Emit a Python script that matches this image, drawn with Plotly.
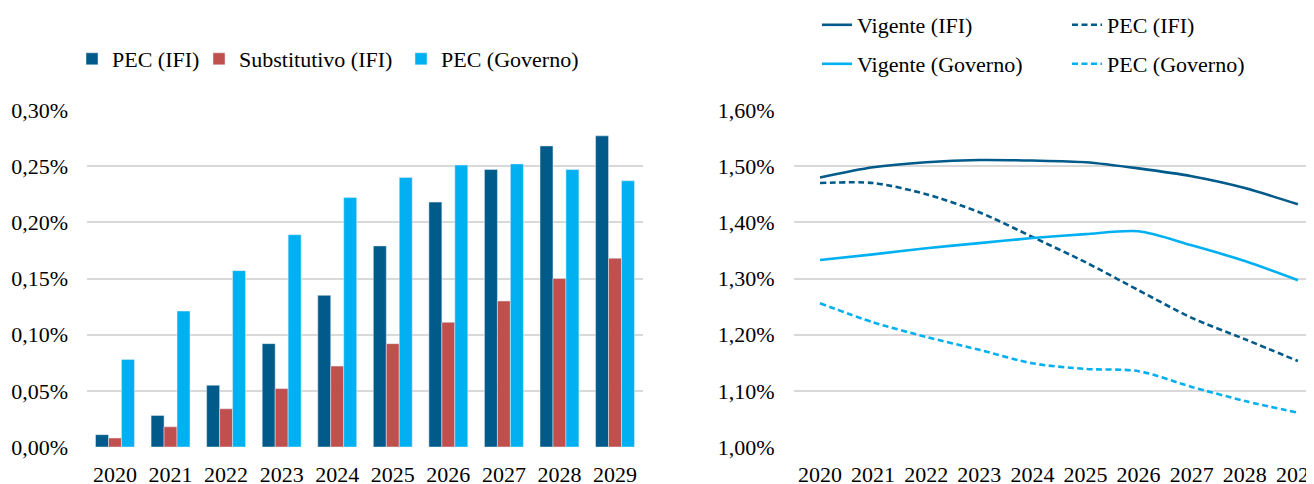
import plotly.graph_objects as go

# ---------------- data ----------------
years = ["2020", "2021", "2022", "2023", "2024", "2025", "2026", "2027", "2028", "2029"]

# left chart (bars), values in %
pec_ifi_bar = [0.011, 0.028, 0.055, 0.092, 0.135, 0.179, 0.218, 0.247, 0.268, 0.277]
subst_ifi_bar = [0.008, 0.018, 0.034, 0.052, 0.072, 0.092, 0.111, 0.130, 0.150, 0.168]
pec_gov_bar = [0.078, 0.121, 0.157, 0.189, 0.222, 0.240, 0.251, 0.252, 0.247, 0.237]

# right chart (lines), values in %
vigente_ifi = [1.480, 1.498, 1.507, 1.511, 1.510, 1.507, 1.496, 1.482, 1.461, 1.432]
pec_ifi = [1.470, 1.470, 1.450, 1.418, 1.374, 1.329, 1.279, 1.230, 1.192, 1.153]
vigente_gov = [1.333, 1.343, 1.354, 1.363, 1.372, 1.379, 1.384, 1.359, 1.331, 1.297]
pec_gov = [1.256, 1.222, 1.196, 1.173, 1.149, 1.139, 1.135, 1.107, 1.082, 1.061]

left_ticks = [0.00, 0.05, 0.10, 0.15, 0.20, 0.25, 0.30]
right_ticks = [1.00, 1.10, 1.20, 1.30, 1.40, 1.50, 1.60]

# ---------------- style ----------------
W, H = 1314, 484
PAGE_OFF = 8  # default body margin of the html page
DARK = "#005A8A"
RED = "#C0504D"
LIGHT = "#00B0F0"
GRID = "#D9D9D9"
FONT = "Liberation Serif"
FS = 22
LEG_OFF = 41  # distance from legend box left edge to its text


def px(x):
    return (x - PAGE_OFF) / W


def py(y):
    return 1 - (y - PAGE_OFF) / H


def pct_label(v):
    return f"{v:.2f}".replace(".", ",") + "%"


fig = go.Figure()

fig.add_trace(go.Bar(x=years, y=pec_ifi_bar, name="PEC (IFI)", marker_color=DARK,
                     xaxis="x", yaxis="y", legend="legend"))
fig.add_trace(go.Bar(x=years, y=subst_ifi_bar, name="Substitutivo (IFI)", marker_color=RED,
                     xaxis="x", yaxis="y", legend="legend2"))
fig.add_trace(go.Bar(x=years, y=pec_gov_bar, name="PEC (Governo)", marker_color=LIGHT,
                     xaxis="x", yaxis="y", legend="legend3"))

line_specs = [
    (vigente_ifi, "Vigente (IFI)", DARK, "solid", "legend4"),
    (pec_ifi, "PEC (IFI)", DARK, "6px,3.5px", "legend5"),
    (vigente_gov, "Vigente (Governo)", LIGHT, "solid", "legend6"),
    (pec_gov, "PEC (Governo)", LIGHT, "6px,3.5px", "legend7"),
]
for vals, name, color, dash, leg in line_specs:
    fig.add_trace(go.Scatter(x=years, y=vals, name=name, mode="lines",
                             line=dict(color=color, width=2.6, dash=dash, shape="spline", smoothing=0.8),
                             xaxis="x2", yaxis="y2", legend=leg))

ydom = [py(447), py(110)]

# right chart: category spacing ~53.1 px, 2020 centred at x=820; plot runs past the window edge
R_LEFT, R_FIRST, R_STEP = 793.5, 820.0, 53.1
r_right_px = PAGE_OFF + W
r_range = [(R_LEFT - R_FIRST) / R_STEP, (r_right_px - R_FIRST) / R_STEP]


def legend_at(text_x, center_y):
    return dict(x=px(text_x - LEG_OFF), y=py(center_y), xanchor="left", yanchor="middle",
                xref="container", yref="container",
                orientation="h", bgcolor="rgba(0,0,0,0)", borderwidth=0,
                font=dict(family=FONT, size=FS, color="#000000"))


tickfont = dict(family=FONT, size=FS, color="#000000")

fig.update_layout(
    width=W, height=H,
    margin=dict(l=0, r=0, t=0, b=0, autoexpand=False),
    paper_bgcolor="white", plot_bgcolor="white",
    showlegend=True,
    font=dict(family=FONT, size=FS, color="#000000"),
    barmode="group", bargap=0.3, bargroupgap=0,
    xaxis=dict(domain=[px(87.2), px(642.8)], type="category", anchor="y", automargin=False,
               showgrid=False, showline=False, ticks="", ticklabelstandoff=12,
               tickfont=tickfont),
    yaxis=dict(domain=ydom, range=[0, 0.30], anchor="x", automargin=False,
               tickvals=left_ticks, ticktext=[pct_label(v) for v in left_ticks],
               showgrid=True, gridcolor=GRID, gridwidth=2,
               zeroline=False, showline=False, ticks="", ticklabelstandoff=18,
               tickfont=tickfont),
    xaxis2=dict(domain=[px(R_LEFT), 1.0], type="category", anchor="y2", range=r_range,
                automargin=False, showgrid=False, showline=False, ticks="", ticklabelstandoff=12,
                tickfont=tickfont),
    yaxis2=dict(domain=ydom, range=[1.0, 1.6], anchor="x2", automargin=False,
                tickvals=right_ticks, ticktext=[pct_label(v) for v in right_ticks],
                showgrid=True, gridcolor=GRID, gridwidth=2,
                zeroline=False, showline=False, ticks="", ticklabelstandoff=18,
                tickfont=tickfont),
    legend=legend_at(113, 59),
    legend2=legend_at(240, 59),
    legend3=legend_at(442, 59),
    legend4=legend_at(858, 25),
    legend5=legend_at(1108, 25),
    legend6=legend_at(858, 64),
    legend7=legend_at(1108, 64),
)

fig.write_html("out.html")
